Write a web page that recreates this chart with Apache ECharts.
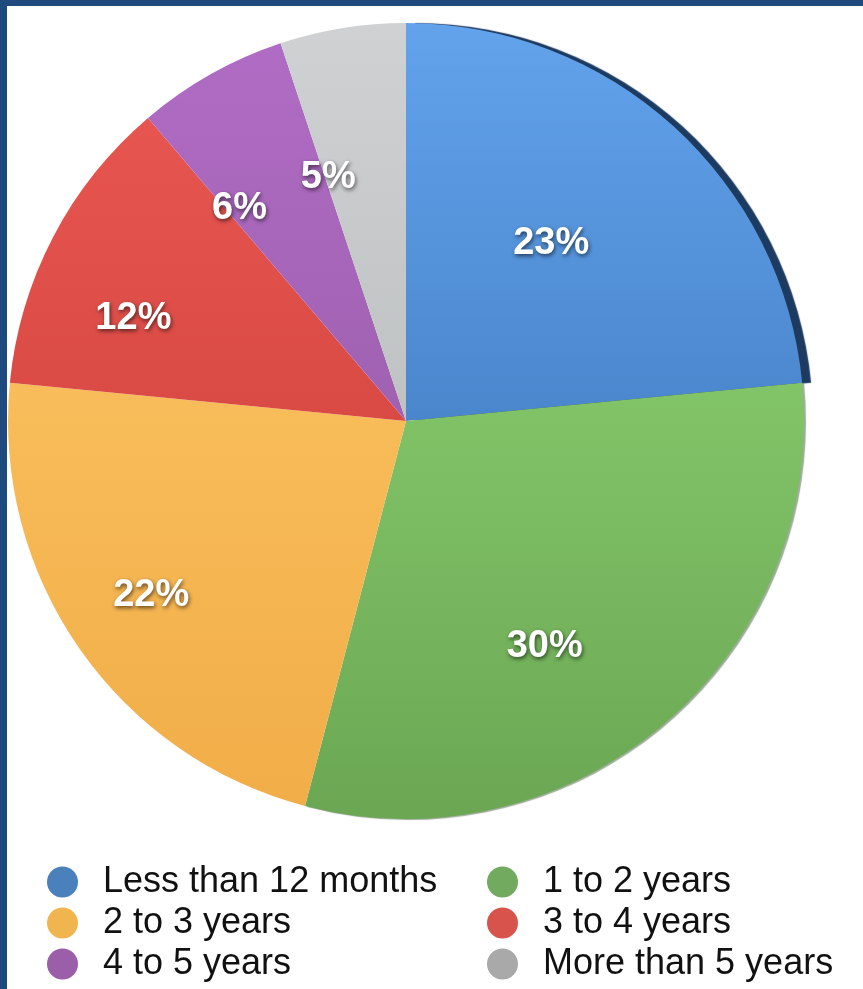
<!DOCTYPE html>
<html>
<head>
<meta charset="utf-8">
<script src="https://cdn.jsdelivr.net/npm/echarts@6/dist/echarts.min.js"></script>
<style>
  html, body { margin: 0; padding: 0; background: #1f4a7e; width: 863px; height: 989px; overflow: hidden; }
  #chart { position: absolute; left: 7px; top: 6px; width: 856px; height: 983px; background: #ffffff; }
</style>
</head>
<body>
<div id="chart"></div>
<script>
// ---- data ----
const categories = ['Less than 12 months', '1 to 2 years', '2 to 3 years', '3 to 4 years', '4 to 5 years', 'More than 5 years'];
const percentValues = [23, 30, 22, 12, 6, 5];

// ---- styles ----
const sliceTop    = ['#62a3ec', '#82c468', '#f8bd5a', '#e65550', '#b06cc4', '#cfd1d2'];
const sliceBottom = ['#4a86cc', '#6ba753', '#f1ad48', '#da4a45', '#a061b1', '#bfc2c3'];
const legendColors = ['#4a80bb', '#72ab5f', '#f1b54f', '#d9534d', '#9b5faa', '#a9a9a9'];

const chart = echarts.init(document.getElementById('chart'), null, { renderer: 'canvas' });

const sliceData = categories.map((name, i) => ({
  name: name,
  value: percentValues[i],
  itemStyle: Object.assign({
    color: new echarts.graphic.LinearGradient(0, 0, 0, 1, [
      { offset: 0, color: sliceTop[i] },
      { offset: 1, color: sliceBottom[i] }
    ])
  }, i === 0 ? { shadowColor: '#1d3b60', shadowOffsetX: 9, shadowOffsetY: 0, shadowBlur: 1 } :
     i === 1 ? { shadowColor: 'rgba(40,70,30,0.45)', shadowOffsetX: 2, shadowOffsetY: 1, shadowBlur: 1 } : {})
}));

const labelData = categories.map((name, i) => ({ name: name, value: percentValues[i] }));

function legendItems(idx) {
  return idx.map(i => ({ name: categories[i], itemStyle: { color: legendColors[i] } }));
}

const legendCommon = {
  orient: 'vertical',
  icon: 'circle',
  itemWidth: 31,
  itemHeight: 31,
  itemGap: 5,
  padding: 0,
  height: 125,
  selectedMode: false,
  textStyle: { fontSize: 36, lineHeight: 36, color: '#111111', fontFamily: 'Liberation Sans, Arial, sans-serif', padding: [0, 0, 0, 20] },
  top: 858
};

chart.setOption({
  animation: false,
  backgroundColor: '#ffffff',
  legend: [
    Object.assign({}, legendCommon, { left: 40, data: legendItems([0, 2, 4]) }),
    Object.assign({}, legendCommon, { left: 480, data: legendItems([1, 3, 5]) })
  ],
  series: [
    {
      type: 'pie',
      center: [399, 415],
      radius: 398,
      startAngle: 90,
      clockwise: true,
      silent: true,
      label: { show: false },
      labelLine: { show: false },
      itemStyle: { borderWidth: 0, borderRadius: 0 },
      emphasis: { disabled: true },
      data: sliceData,
      z: 2
    },
    {
      type: 'pie',
      center: [364, 436],
      radius: [150, 380],
      startAngle: 90,
      clockwise: true,
      silent: true,
      itemStyle: { color: 'rgba(0,0,0,0)', borderWidth: 0, borderRadius: 0 },
      emphasis: { disabled: true },
      labelLine: { show: false },
      label: {
        show: true,
        position: 'inside',
        formatter: '{c}%',
        color: '#ffffff',
        fontSize: 38,
        fontWeight: 'bold',
        fontFamily: 'Liberation Sans, Arial, sans-serif',
        textShadowColor: 'rgba(0,0,0,0.6)',
        textShadowBlur: 4,
        textShadowOffsetX: 1,
        textShadowOffsetY: 2
      },
      data: labelData,
      z: 5
    }
  ]
});
</script>
</body>
</html>
